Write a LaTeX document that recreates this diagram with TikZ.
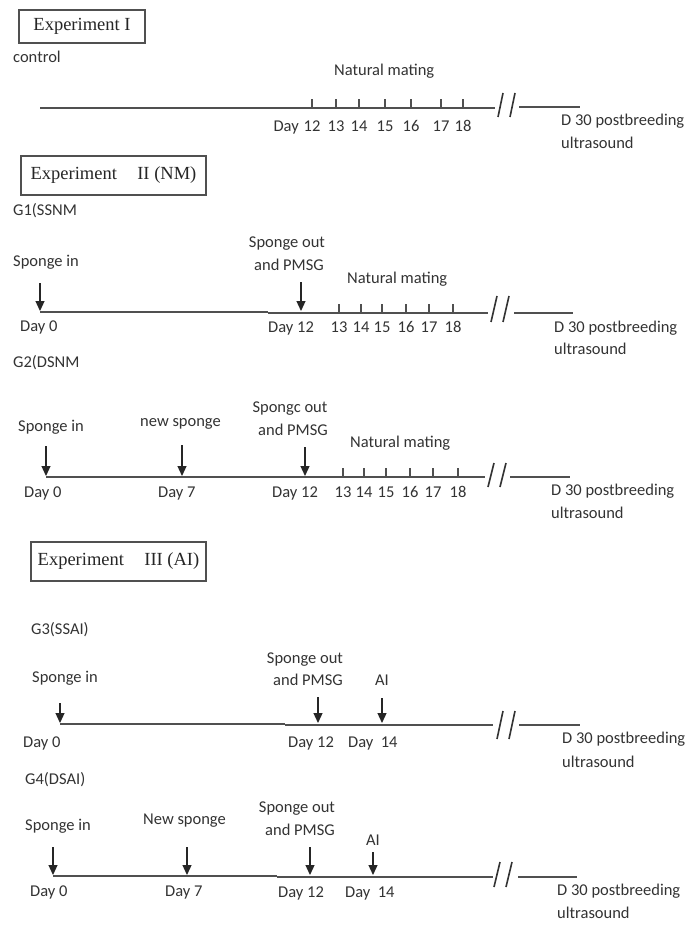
\documentclass[tikz,border=0pt]{standalone}
\usepackage{fontspec}
\setmainfont{Carlito}
\newfontfamily\serifbox{Liberation Serif}
\usetikzlibrary{arrows.meta}
\definecolor{ln}{HTML}{505050}
\definecolor{txt}{HTML}{333333}
\tikzset{
  lbl/.style={font=\fontsize{16.5}{19}\selectfont, text=txt, inner sep=0pt, anchor=mid west},
  num/.style={font=\fontsize{16.5}{19}\selectfont, text=txt, inner sep=0pt, anchor=mid},
  tl/.style={draw=ln, line width=1.5pt},
  tick/.style={draw=ln, line width=1.1pt},
  brk/.style={draw=txt, line width=1.6pt},
  arr/.style={draw=black!85, line width=1.2pt, -{Triangle[width=9pt,length=10pt]}},
  expbox/.style={draw=ln, line width=1.1pt, font=\serifbox\fontsize{18.5}{20}\selectfont, text=black!85, inner sep=0pt}
}
\begin{document}
\begin{tikzpicture}[x=1pt,y=-1pt]
\useasboundingbox[fill=white] (0,0) rectangle (690,925);

% ---------------- Experiment I ----------------
\node[expbox, minimum width=126pt, minimum height=33pt] (b1) at (82,26.5) {Experiment I};
\node[lbl] (ctl) at (13,60) {control};
\coordinate (r1a) at (40,108); \coordinate (r1b) at (495,108);
\coordinate (r1c) at (519,107); \coordinate (r1d) at (580,107);
\draw[tl] (r1a) -- (r1b);
\draw[tl] (r1c) -- (r1d);
\draw[brk] (498,117) -- (503,93);
\draw[brk] (510,117) -- (515,93);
\node[lbl] (nm1) at (334,73) {Natural mating};
\node[num, anchor=mid east] (d1) at (299,129) {Day};
\foreach \x/\n in {312/12,336/13,359/14,385/15,411/16,441/17,463/18}{
  \draw[tick] (\x,108) -- (\x,99);
  \node[num] (r1n\n) at (\x,129) {\n};
}
\node[lbl] (u1a) at (561,123) {D 30 postbreeding};
\node[lbl] (u1b) at (561,146) {ultrasound};

% ---------------- Experiment II ----------------
\node[expbox, minimum width=185pt, minimum height=39pt] (b2) at (113.5,175.5) {Experiment\hspace{1.1em}II (NM)};
\node[lbl] (g1) at (13,213) {G1(SSNM};
\coordinate (r2a) at (40,312); \coordinate (r2m) at (268,312);
\coordinate (r2n) at (268,313); \coordinate (r2b) at (488,313);
\coordinate (r2c) at (514,313); \coordinate (r2d) at (573,313);
\draw[tl] (r2a) -- (r2m);
\draw[tl] (r2n) -- (r2b);
\draw[tl] (r2c) -- (r2d);
\draw[brk] (491,322) -- (497,296);
\draw[brk] (503,322) -- (509,296);
\node[lbl] (s2in) at (13,264) {Sponge in};
\coordinate (a2s) at (40,283); \coordinate (a2e) at (40,311);
\draw[arr] (a2s) -- (a2e);
\node[num] (s2o1) at (287,245) {Sponge out};
\node[num] (s2o2) at (289,268) {and PMSG};
\coordinate (a2bs) at (301,282); \coordinate (a2be) at (301,311);
\draw[arr] (a2bs) -- (a2be);
\node[lbl] (nm2) at (347,281) {Natural mating};
\node[lbl] (d20) at (20,329) {Day 0};
\node[lbl] (d212) at (268,330) {Day 12};
\foreach \x/\n in {339/13,361/14,382/15,406/16,429/17,453/18}{
  \draw[tick] (\x,313) -- (\x,304);
  \node[num] (r2n\n) at (\x,330) {\n};
}
\node[lbl] (u2a) at (554,330) {D 30 postbreeding};
\node[lbl] (u2b) at (554,352) {ultrasound};

% G2
\node[lbl] (g2) at (13,365) {G2(DSNM};
\coordinate (r3a) at (46,477); \coordinate (r3b) at (485,477);
\coordinate (r3c) at (510,477); \coordinate (r3d) at (570,477);
\draw[tl] (r3a) -- (r3b);
\draw[tl] (r3c) -- (r3d);
\draw[brk] (488,487) -- (494,463);
\draw[brk] (500,487) -- (506,463);
\node[lbl] (s3in) at (18,429) {Sponge in};
\coordinate (a3s) at (46,446); \coordinate (a3e) at (46,476);
\draw[arr] (a3s) -- (a3e);
\node[lbl] (ns3) at (140,424) {new sponge};
\coordinate (a3bs) at (182,445); \coordinate (a3be) at (182,476);
\draw[arr] (a3bs) -- (a3be);
\node[num] (s3o1) at (290,410) {Spongc out};
\node[num] (s3o2) at (293,433) {and PMSG};
\coordinate (a3cs) at (305,447); \coordinate (a3ce) at (305,476);
\draw[arr] (a3cs) -- (a3ce);
\node[lbl] (nm3) at (350,445) {Natural mating};
\node[lbl] (d30) at (24,495) {Day 0};
\node[lbl] (d37) at (158,495) {Day 7};
\node[lbl] (d312) at (272,495) {Day 12};
\foreach \x/\n in {343/13,364/14,386/15,410/16,433/17,458/18}{
  \draw[tick] (\x,477) -- (\x,468);
  \node[num] (r3n\n) at (\x,495) {\n};
}
\node[lbl] (u3a) at (551,493) {D 30 postbreeding};
\node[lbl] (u3b) at (551,516) {ultrasound};

% ---------------- Experiment III ----------------
\node[expbox, minimum width=175pt, minimum height=39pt] (b3) at (118.5,561.5) {Experiment\hspace{1.1em}III (AI)};
\node[lbl] (g3) at (31,632) {G3(SSAI)};
\coordinate (r4a) at (60,724); \coordinate (r4m) at (285,724);
\coordinate (r4n) at (285,725); \coordinate (r4b) at (493,725);
\coordinate (r4c) at (519,725); \coordinate (r4d) at (580,725);
\draw[tl] (r4a) -- (r4m);
\draw[tl] (r4n) -- (r4b);
\draw[tl] (r4c) -- (r4d);
\draw[brk] (497,739) -- (503,711);
\draw[brk] (509,739) -- (515,711);
\node[lbl] (s4in) at (32,680) {Sponge in};
\coordinate (a4s) at (60,703); \coordinate (a4e) at (60,723);
\draw[arr] (a4s) -- (a4e);
\node[num] (s4o1) at (305,661) {Sponge out};
\node[num] (s4o2) at (308,683) {and PMSG};
\coordinate (a4bs) at (318,697); \coordinate (a4be) at (318,723);
\draw[arr] (a4bs) -- (a4be);
\node[num] (ai4) at (382,683) {AI};
\coordinate (a4cs) at (382,698); \coordinate (a4ce) at (382,723);
\draw[arr] (a4cs) -- (a4ce);
\node[lbl] (d40) at (23,745) {Day 0};
\node[lbl] (d412) at (288,745) {Day 12};
\node[lbl] (d414) at (348,745) {Day\ \ 14};
\node[lbl] (u4a) at (562,741) {D 30 postbreeding};
\node[lbl] (u4b) at (562,765) {ultrasound};

% G4
\node[lbl] (g4) at (25,782) {G4(DSAI)};
\coordinate (r5a) at (53,876); \coordinate (r5m) at (277,876);
\coordinate (r5n) at (277,877); \coordinate (r5b) at (493,877);
\coordinate (r5c) at (518,877); \coordinate (r5d) at (577,877);
\draw[tl] (r5a) -- (r5m);
\draw[tl] (r5n) -- (r5b);
\draw[tl] (r5c) -- (r5d);
\draw[brk] (494,887) -- (500,862);
\draw[brk] (506,887) -- (512,862);
\node[lbl] (s5in) at (25,828) {Sponge in};
\coordinate (a5s) at (53,847); \coordinate (a5e) at (53,875);
\draw[arr] (a5s) -- (a5e);
\node[lbl] (ns5) at (143,822) {New sponge};
\coordinate (a5bs) at (187,847); \coordinate (a5be) at (187,875);
\draw[arr] (a5bs) -- (a5be);
\node[num] (s5o1) at (297,810) {Sponge out};
\node[num] (s5o2) at (300,833) {and PMSG};
\coordinate (a5cs) at (310,847); \coordinate (a5ce) at (310,875);
\draw[arr] (a5cs) -- (a5ce);
\node[num] (ai5) at (373,843) {AI};
\coordinate (a5ds) at (373,852); \coordinate (a5de) at (373,875);
\draw[arr] (a5ds) -- (a5de);
\node[lbl] (d50) at (30,894) {Day 0};
\node[lbl] (d57) at (165,894) {Day 7};
\node[lbl] (d512) at (278,895) {Day 12};
\node[lbl] (d514) at (345,895) {Day\ \ 14};
\node[lbl] (u5a) at (557,893) {D 30 postbreeding};
\node[lbl] (u5b) at (557,916) {ultrasound};
\end{tikzpicture}
\end{document}
